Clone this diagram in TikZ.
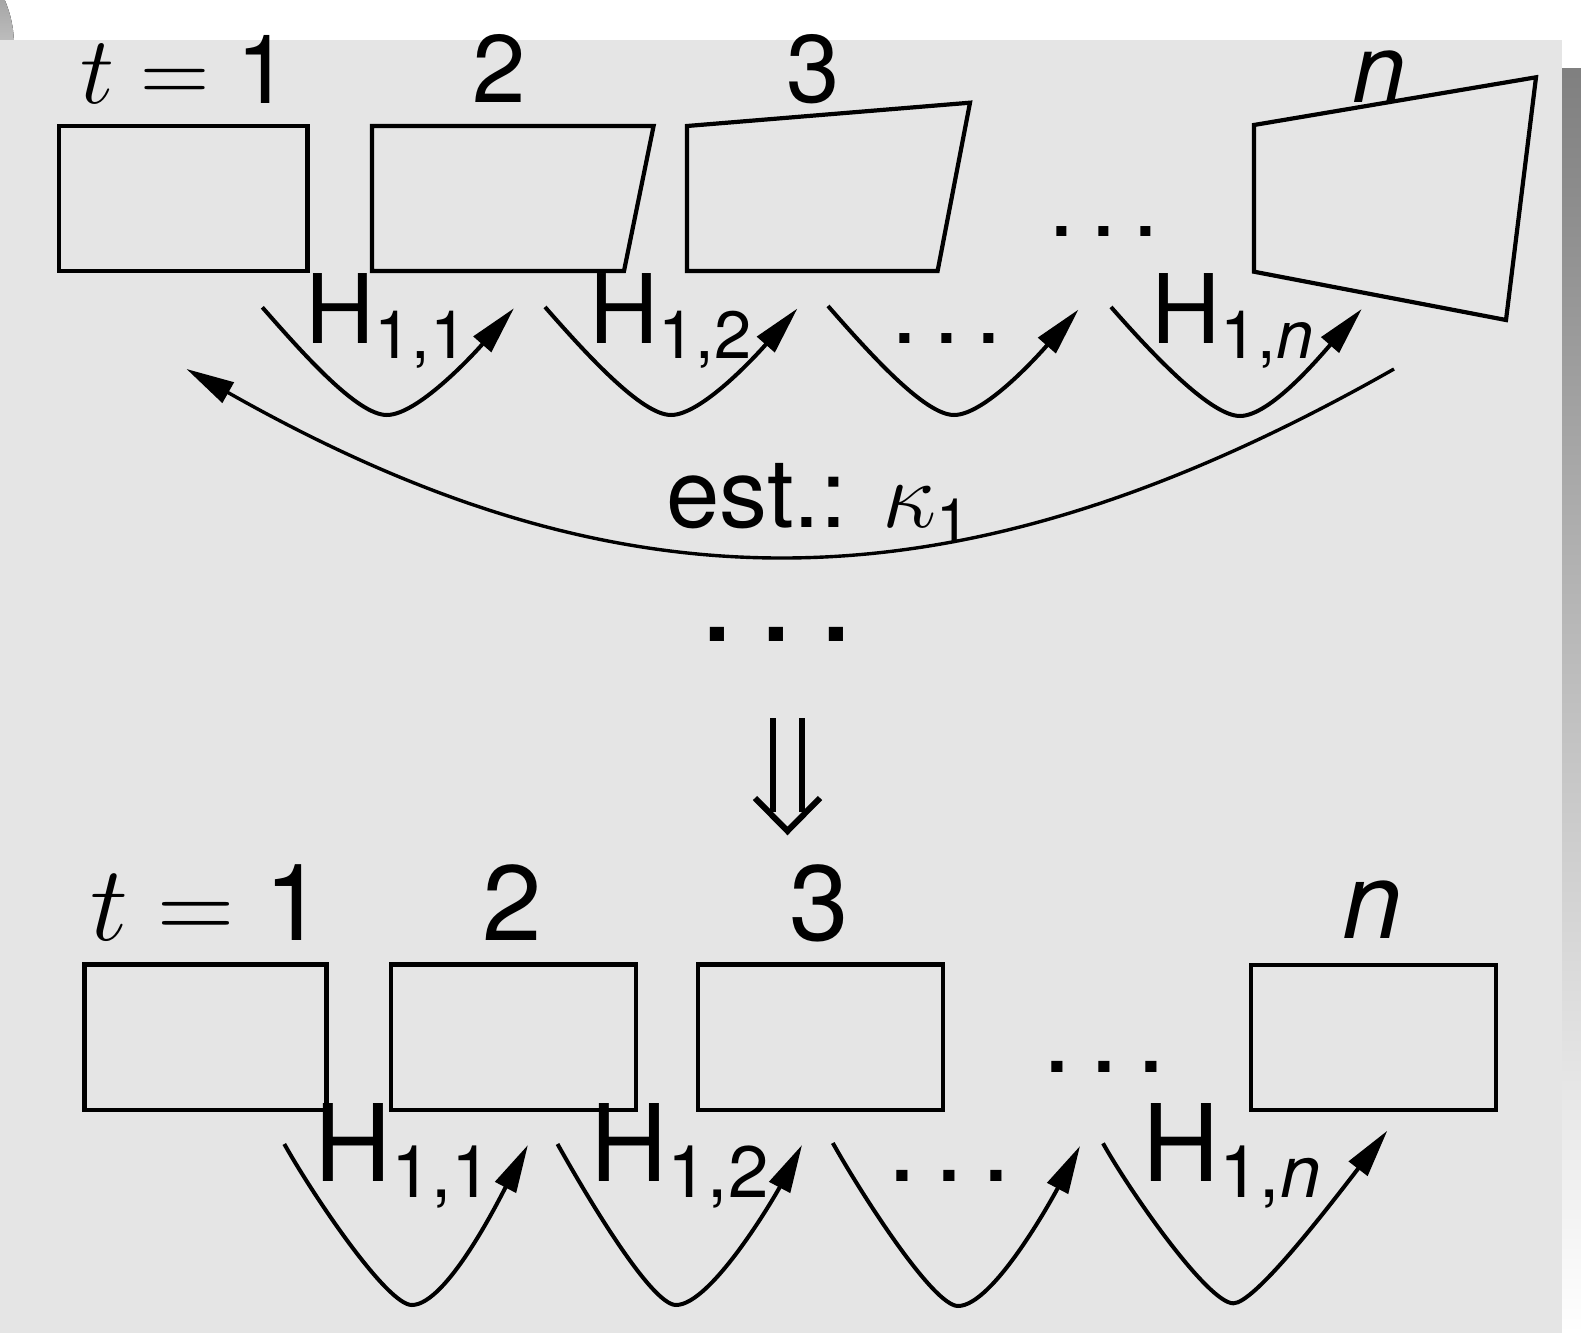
\RequirePackage{fix-cm}
\documentclass[tikz,border=0pt]{standalone}
\usepackage{fontspec}
\setmainfont{TeX Gyre Heros}
\usetikzlibrary{arrows.meta}
\definecolor{panel}{RGB}{229,229,229}
\definecolor{shade}{RGB}{148,148,148}
\newcommand\subT[1]{\lower7.6pt\hbox{\fontsize{33.4}{40}\selectfont #1}}
\newcommand\subB[1]{\lower8.1pt\hbox{\fontsize{36.4}{44}\selectfont #1}}
\newcommand\subK[1]{\lower7.2pt\hbox{\fontsize{30}{36}\selectfont #1}}
\newcommand\tdots{.\kern.16em.\kern.16em.}
\begin{document}
\begin{tikzpicture}[x=0.5pt,y=-0.5pt,
  lab/.style={inner sep=0pt, outer sep=0pt, anchor=base west},
  topfont/.style={lab, font=\fontsize{48}{58}\selectfont},
  botfont/.style={lab, font=\fontsize{53.5}{64}\selectfont},
  midfont/.style={lab, font=\fontsize{68}{80}\selectfont},
  quad/.style={draw=black, line width=2.1pt, line join=miter},
  harc/.style={draw=black, line width=2pt, -{Triangle[length=24pt,width=11.5pt]}},
  bigarc/.style={harc, line width=1.7pt},
  dbl/.style={draw=black, line width=3pt}]
\useasboundingbox (0,0) rectangle (1581,1333);
\clip (0,0) rectangle (1581,1333);
\fill[white] (0,0) rectangle (1581,1333);
\fill[shade] (-100,45) circle[radius=114];
\fill[panel] (0,40) rectangle (1562,1333);
\fill[shade] (1562,68) rectangle (1581,1333);

% ---------- top row labels ----------
\node[topfont] (t1) at (80,103) {$t={}$1};
\node[topfont] (t2) at (472.2,102.5) {2};
\node[topfont] (t3) at (786.2,102.5) {3};
\node[topfont] (tn) at (1352,102) {\textit{n}};

% ---------- top row frames ----------
\draw[quad] (59,126) -- (307.5,126) -- (307.5,271) -- (59,271) -- cycle;
\draw[quad] (372,126) -- (653.6,126) -- (624,271) -- (372,271) -- cycle;
\draw[quad] (687,126) -- (970,102.7) -- (937.6,271) -- (687,271) -- cycle;
\draw[quad] (1254,125) -- (1536,77.3) -- (1506,320) -- (1254,271.7) -- cycle;

\node[topfont] (td2) at (1048.6,236) {\tdots};

% ---------- top homographies ----------
\node[topfont] (h11) at (305.4,343) {H\subT{1,1}};
\node[topfont] (h12) at (589.4,343) {H\subT{1,2}};
\node[topfont] (td1) at (891.6,343) {\tdots};
\node[topfont] (h1n) at (1151.4,343) {H\subT{1,\textit{n}}};

\coordinate (s1) at (262.3,307.3); \coordinate (m1) at (386.8,415); \coordinate (e1) at (513.9,308.3);
\coordinate (s2) at (545,307);     \coordinate (m2) at (671,415);   \coordinate (e2) at (797.4,308.5);
\coordinate (s3) at (828,306);     \coordinate (m3) at (954,415);   \coordinate (e3) at (1078.5,309.5);
\coordinate (s4) at (1111,307);    \coordinate (m4) at (1240,416);  \coordinate (e4) at (1361.7,309);
\foreach \i in {1,2,3,4}{
  \draw[harc] (s\i) .. controls +(43,49) and +(-29,0) .. (m\i)
                    .. controls +(30,0) and +(-43,49) .. (e\i);
}

% ---------- estimate arc ----------
\coordinate (ks) at (1394,369);
\coordinate (ke) at (186.5,369);
\draw[bigarc] (ks) .. controls +(-437,248) and +(437.5,248) .. (ke);
\node[topfont] (est) at (666.2,527.3) {est.: $\kappa$\subK{1}};

% ---------- middle ----------
\node[midfont] (md) at (698.2,641) {\tdots};
\coordinate (da1) at (773,718); \coordinate (da2) at (773,812);
\coordinate (db1) at (802,718); \coordinate (db2) at (802,812);
\coordinate (dc1) at (755,798); \coordinate (dc2) at (787.5,831); \coordinate (dc3) at (820,798);
\draw[dbl] (da1) -- (da2);
\draw[dbl] (db1) -- (db2);
\draw[dbl, line join=miter] (dc1) -- (dc2) -- (dc3);

% ---------- bottom row ----------
\node[botfont] (b1) at (90.3,940) {$t={}$1};
\node[botfont] (b2) at (482.9,940) {2};
\node[botfont] (b3) at (789.4,940) {3};
\node[botfont] (bn) at (1342.5,938) {\textit{n}};

\draw[quad] (84.5,964.5) rectangle (326.4,1109.7);
\draw[quad] (391,964.5) rectangle (636.2,1109.7);
\draw[quad] (697.8,964.5) rectangle (943.3,1109.7);
\draw[quad] (1251.2,964.7) rectangle (1496.2,1109.7);

\node[botfont] (bd2) at (1042.7,1072) {\tdots};

\node[botfont] (g11) at (314,1181) {H\subB{1,1}};
\node[botfont] (g12) at (590.1,1181) {H\subB{1,2}};
\node[botfont] (bd1) at (887.7,1181) {\tdots};
\node[botfont] (g1n) at (1142.2,1181) {H\subB{1,\textit{n}}};

\coordinate (u1) at (284.3,1144); \coordinate (v1) at (411.8,1305); \coordinate (w1) at (527.9,1145);
\coordinate (u2) at (557.5,1144); \coordinate (v2) at (676,1305);   \coordinate (w2) at (802,1145);
\coordinate (u3) at (832.8,1143); \coordinate (v3) at (958,1306);   \coordinate (w3) at (1080,1146);
\coordinate (u4) at (1103,1143.3); \coordinate (v4) at (1233.3,1303.3); \coordinate (w4) at (1387.3,1130.7);
\foreach \i in {1,2,3}{
  \draw[harc] (u\i) .. controls +(28,50) and +(-25,0) .. (v\i)
                    .. controls +(35,0) and +(-28,53) .. (w\i);
}
\draw[harc] (u4) .. controls +(28,50) and +(-25,0) .. (v4)
                 .. controls +(20,0) and +(-70,91) .. (w4);
\end{tikzpicture}
\end{document}
